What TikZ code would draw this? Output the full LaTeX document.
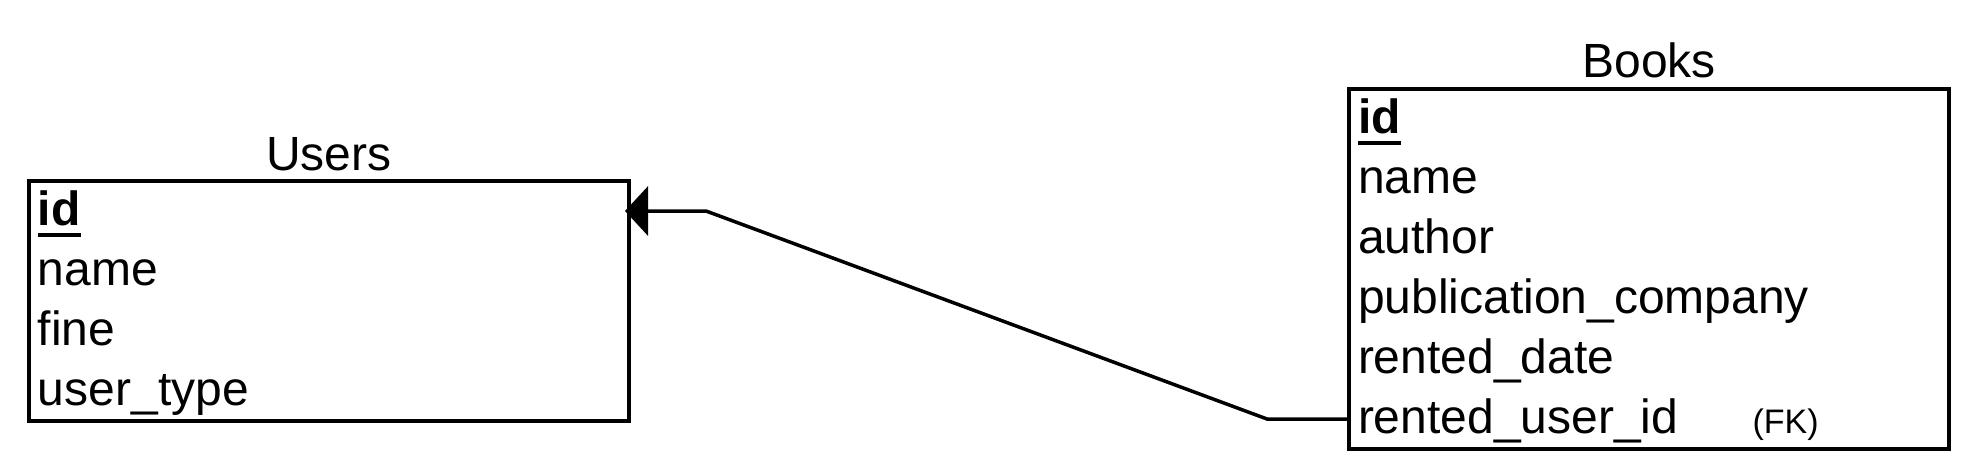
\documentclass[tikz,border=0pt]{standalone}
\usepackage{fontspec}
\setmainfont{Liberation Sans}
\usetikzlibrary{calc,positioning,arrows.meta}

\newcommand{\pkey}[1]{\setbox0\hbox{\bfseries #1}\rlap{\rule[-6pt]{\wd0}{2.2pt}}\box0}

\begin{document}
\begin{tikzpicture}[x=0.5pt,y=-0.5pt,
  table/.style={draw, line width=2pt, inner sep=0pt, outer sep=0pt, anchor=north west},
  field/.style={inner sep=0pt, outer sep=0pt, minimum height=30pt, anchor=north west,
    text height=21.7pt, text depth=7.6pt, font=\fontsize{24}{29}\selectfont},
  tabletitle/.style={inner sep=0pt, anchor=base, font=\fontsize{24}{29}\selectfont},
  fkey/.style={inner sep=0pt, font=\fontsize{17}{20}\selectfont},
  rel/.style={line width=1.75pt, -{Triangle[length=11.5pt,width=24.5pt]}}]

\useasboundingbox (0,0) rectangle (1976,476);

% Users
\node[table, minimum width=300pt, minimum height=120pt] (users) at (29,181) {};
\node[tabletitle] at ($(users.north)+(0,-11)$) {Users};
\node[field] (uid) at ($(users.north west)+(9,0)$) {\pkey{id}};
\node[field, below=0pt of uid.south west, anchor=north west] (uname) {name};
\node[field, below=0pt of uname.south west, anchor=north west] (ufine) {fine};
\node[field, below=0pt of ufine.south west, anchor=north west] (utype) {user\_type};

% Books
\node[table, minimum width=300pt, minimum height=180pt] (books) at (1349,89) {};
\node[tabletitle] at ($(books.north)+(0,-11)$) {Books};
\node[field] (bid) at ($(books.north west)+(9,0)$) {\pkey{id}};
\node[field, below=0pt of bid.south west, anchor=north west] (bname) {name};
\node[field, below=0pt of bname.south west, anchor=north west] (bauthor) {author};
\node[field, below=0pt of bauthor.south west, anchor=north west] (bcompany) {publication\_company};
\node[field, below=0pt of bcompany.south west, anchor=north west] (bdate) {rented\_date};
\node[field, below=0pt of bdate.south west, anchor=north west] (buser) {rented\_user\_id};
\node[fkey, right=37pt of buser.base east, anchor=base west] (fk) {(FK)};

% relation
\coordinate (bend1) at (1267,0);
\coordinate (bend2) at (706,0);
\draw[rel, shorten >=-2pt] (buser -| books.west) -- (buser -| bend1) -- (uid -| bend2) -- (uid -| users.east);

\end{tikzpicture}
\end{document}
